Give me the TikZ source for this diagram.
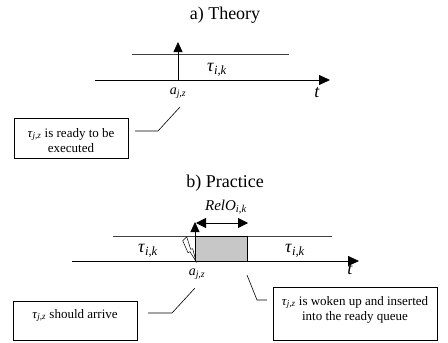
\documentclass[tikz,border=0pt]{standalone}
\usepackage{fontspec}
\setmainfont{Liberation Serif}
\usetikzlibrary{arrows.meta}
\newcommand{\isub}[2]{\textit{#1}\textsubscript{\textit{#2}}}
\newcommand{\notetext}[4]{\parbox[c][#2][t]{#1}{\centering\vspace*{#3}#4}}
\begin{document}
\begin{tikzpicture}[x=1pt, y=-1pt,
    title/.style={font=\fontsize{18}{20}\selectfont},
    timeaxis/.style={draw, line width=0.8pt, -{Triangle[length=11pt, width=10pt]}},
    band/.style={draw, line width=0.8pt, black!75},
    release/.style={draw, line width=0.8pt, -{Triangle[length=10pt, width=9pt]}},
    span/.style={draw, line width=0.8pt, {Triangle[length=10pt, width=10pt]}-{Triangle[length=10pt, width=10pt]}},
    lbl/.style={font=\fontsize{18}{20}\selectfont, inner sep=1pt},
    small/.style={font=\fontsize{14}{16}\selectfont, inner sep=1pt},
    note/.style={rectangle, draw, line width=0.6pt, font=\fontsize{13}{15.5}\selectfont, inner xsep=2pt, inner ysep=5pt},
    leader/.style={draw, line width=0.6pt}
]
\fill[white] (0,0) rectangle (448,343);
\useasboundingbox (0,0) rectangle (448,343);

% a) Theory
\node[title] (titleA) at (225,15) {a) Theory};
\coordinate (axA0) at (95,80);
\coordinate (axA1) at (330,80);
\coordinate (bandA0) at (132,54);
\coordinate (bandA1) at (289,54);
\coordinate (arrA) at (178,80);
\coordinate (arrAtop) at (178,42);
\draw[band] (bandA0) -- (bandA1);
\draw[timeaxis] (axA0) -- (axA1);
\draw[release] (arrA) -- (arrAtop);
\node[lbl] (tauA) at (217,70) {\isub{τ}{i,k}};
\node[small] (ajzA) at (178,93) {\isub{a}{j,z}};
\node[lbl] (tA) at (317,93) {\textit{t}};
\node[note] (noteA) at (71,138)
    {\notetext{110pt}{30pt}{5pt}{\isub{τ}{j,z} is ready to be\\executed}};
\coordinate (ldA0) at (180,107);
\coordinate (ldA1) at (158,131);
\coordinate (ldA2) at (135,131);
\draw[leader] (ldA0) -- (ldA1) -- (ldA2);

% b) Practice
\node[title] (titleB) at (225,183) {b) Practice};
\coordinate (axB0) at (72,261);
\coordinate (axB1) at (359,261);
\coordinate (bandB0) at (113,236);
\coordinate (bandB1) at (332,236);
\draw[band] (bandB0) -- (bandB1);
\draw[fill=black!22, line width=0.8pt] (195,236) rectangle (247,261);
\draw[timeaxis] (axB0) -- (axB1);
\coordinate (arrB) at (195,261);
\coordinate (arrBtop) at (195,222);
\draw[release] (arrB) -- (arrBtop);
\coordinate (spanB0) at (196,223);
\coordinate (spanB1) at (248,223);
\draw[span] (spanB0) -- (spanB1);
\draw[fill=white, line width=0.5pt] (182.7,240.7) -- (186.7,236.7) -- (190.7,249.3)
    -- (192.7,248.7) -- (196,261.5) -- (190,251.7) -- (188,252.7) -- cycle;
\node[lbl, font=\fontsize{15}{17}\selectfont] (relo) at (226,207) {\isub{RelO}{i,k}};
\node[lbl] (tauB0) at (148,251) {\isub{τ}{i,k}};
\node[lbl] (tauB1) at (295,251) {\isub{τ}{i,k}};
\node[small] (ajzB) at (197,274) {\isub{a}{j,z}};
\node[lbl] (tB) at (350,270) {\textit{t}};
\node[note] (noteB0) at (75,320.5)
    {\notetext{120pt}{29pt}{3pt}{\isub{τ}{j,z} should arrive}};
\node[note] (noteB1) at (355,313.5)
    {\notetext{160pt}{43pt}{4pt}{\isub{τ}{j,z} is woken up and inserted\\into the ready queue}};
\coordinate (ldB0) at (195,288);
\coordinate (ldB1) at (172,313);
\coordinate (ldB2) at (148,313);
\draw[leader] (ldB0) -- (ldB1) -- (ldB2);
\coordinate (ldC0) at (247,275);
\coordinate (ldC1) at (257,300);
\coordinate (ldC2) at (267,300);
\draw[leader] (ldC0) -- (ldC1) -- (ldC2);
\end{tikzpicture}
\end{document}
